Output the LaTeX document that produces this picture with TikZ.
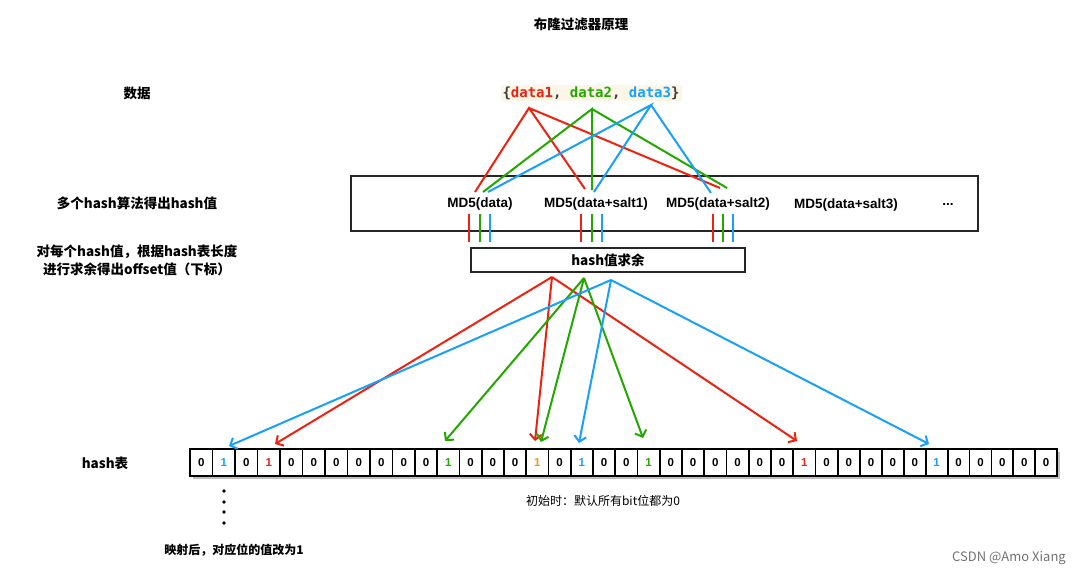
\documentclass[tikz,border=0pt]{standalone}
\usepackage{fontspec}
\setmainfont{Noto Sans CJK SC}
\newfontfamily\latinf{Liberation Sans}
\newfontfamily\monof{DejaVu Sans Mono}
\usetikzlibrary{arrows.meta}
\definecolor{cred}{RGB}{238,34,17}
\definecolor{cgreen}{RGB}{34,168,0}
\definecolor{cblue}{RGB}{24,160,250}
\definecolor{corange}{RGB}{255,147,0}
\definecolor{cbeige}{RGB}{252,246,230}
\definecolor{cdark}{RGB}{60,60,60}
\begin{document}
\begin{tikzpicture}[x=1pt,y=-1pt,
  lbl/.style={font=\fontsize{13.5}{15}\selectfont\bfseries, inner sep=0pt, align=center},
  mdl/.style={font=\latinf\fontsize{13.5}{15}\selectfont\bfseries, inner sep=0pt},
  frame/.style={draw=black!85, line width=1.1pt},
  ln/.style={line width=2pt},
  arr/.style={line width=2pt, -{Straight Barb[length=5.5pt,width=12pt,line width=2pt]}},
  cellbox/.style={draw=black, line width=1.8pt, fill=white, inner sep=0pt, outer sep=0pt,
    font=\latinf\fontsize{11.5}{12}\selectfont\bfseries}
]
\useasboundingbox (0,0) rectangle (1086,575);

% titles and side labels
\node[lbl] (title) at (581,24) {布隆过滤器原理};
\node[lbl] (ldata) at (137,93) {数据};
\node[lbl] (lhash) at (137,203) {多个hash算法得出hash值};
\node[lbl] (lmod) at (137,260) {对每个hash值，根据hash表长度\\[3pt]进行求余得出offset值（下标）};
\node[lbl] (ltable) at (105,463) {hash表};
\node[font=\fontsize{12}{13}\selectfont, inner sep=0pt] (linit) at (603,501) {初始时：默认所有bit位都为0};
\node[lbl, font=\fontsize{12}{13}\selectfont\bfseries] (lmap) at (234,550) {映射后，对应位的值改为1};
\node[font=\fontsize{13}{14}\selectfont, text=black!55, inner sep=0pt] (wm) at (1009,558) {CSDN @Amo Xiang};

% data set
\node[fill=cbeige, inner sep=2pt, font=\monof\fontsize{14}{16}\selectfont\bfseries] (data) at (591,93)
  {\textcolor{cdark}{\{}\textcolor{cred}{data1}\textcolor{cdark}{,} \textcolor{cgreen}{data2}\textcolor{cdark}{,} \textcolor{cblue}{data3}\textcolor{cdark}{\}}};
\coordinate (d1) at (529,108);
\coordinate (d2) at (592,109);
\coordinate (d3) at (651,105);

% MD5 box
\draw[frame] (351,176) rectangle (978,231);
\node[mdl] (m0) at (480,204) {MD5(data)};
\node[mdl] (m1) at (596,204) {MD5(data+salt1)};
\node[mdl] (m2) at (718,204) {MD5(data+salt2)};
\node[mdl] (m3) at (846,205) {MD5(data+salt3)};
\node[mdl] (m4) at (948,204) {...};

\coordinate (r0) at (475,192); \coordinate (r1) at (585,189); \coordinate (r2) at (720,188);
\coordinate (g0) at (483,192); \coordinate (g1) at (592,190); \coordinate (g2) at (727,188);
\coordinate (b0) at (488,192); \coordinate (b1) at (594,192); \coordinate (b2) at (711,193);
\draw[ln, cred] (r0) -- (d1) -- (r1) (d1) -- (r2);
\draw[ln, cgreen] (g0) -- (d2) -- (g1) (d2) -- (g2);
\draw[ln, cblue] (b0) -- (d3) -- (b1) (d3) -- (b2);

% ticks to hash box
\foreach \x/\c in {469/cred,480/cgreen,490/cblue,581/cred,592/cgreen,602/cblue,713/cred,723/cgreen,733/cblue}{
  \draw[ln, \c] (\x,214) -- (\x,242);
}

% hash remainder box
\node[frame, minimum width=274pt, minimum height=24pt, inner sep=0pt, font=\fontsize{13.5}{15}\selectfont\bfseries] (hmod) at (608,260) {hash值求余};

% array
\fill[black!25] (193,452) rectangle (1060,479);
\foreach \c/\d [count=\i] in {black/0,cblue/1,black/0,cred/1,black/0,black/0,black/0,black/0,black/0,black/0,
  black/0,cgreen/1,black/0,black/0,black/0,corange/1,black/0,cblue/1,black/0,black/0,
  cgreen/1,black/0,black/0,black/0,black/0,black/0,black/0,cred/1,black/0,black/0,
  black/0,black/0,black/0,cblue/1,black/0,black/0,black/0,black/0,black/0}{
  \pgfmathsetmacro\xl{\i<=10 ? 190+(\i-1)*22.5 : (\i<=30 ? 415+(\i-11)*22.25 : 860+(\i-31)*21.9)}
  \pgfmathsetmacro\w{\i<=10 ? 22.5 : (\i<=30 ? 22.25 : 21.9)}
  \node[cellbox, anchor=north west, minimum width=\w pt, minimum height=27pt, text=\c] (c\i) at (\xl,449) {\d};
}

% arrows from hash box to table
\coordinate (R) at (552,277); \coordinate (G) at (584,278); \coordinate (B) at (611,280);
\coordinate (tr1) at (275,444); \coordinate (tr2) at (535,441); \coordinate (tr3) at (797,441);
\coordinate (tg1) at (445,441); \coordinate (tg2) at (541,442); \coordinate (tg3) at (643,438);
\coordinate (tb1) at (229,446); \coordinate (tb2) at (579,443); \coordinate (tb3) at (929,444);
\draw[arr, cred] (R) -- (tr1);
\draw[arr, cred] (R) -- (tr2);
\draw[arr, cred] (R) -- (tr3);
\draw[arr, cgreen] (G) -- (tg1);
\draw[arr, cgreen] (G) -- (tg2);
\draw[arr, cgreen] (G) -- (tg3);
\draw[arr, cblue] (B) -- (tb1);
\draw[arr, cblue] (B) -- (tb2);
\draw[arr, cblue] (B) -- (tb3);

% dots
\foreach \y [count=\k] in {491,502,512,523}{
  \fill (224,\y) circle (1.8pt) coordinate (dot\k);
}
\end{tikzpicture}
\end{document}
